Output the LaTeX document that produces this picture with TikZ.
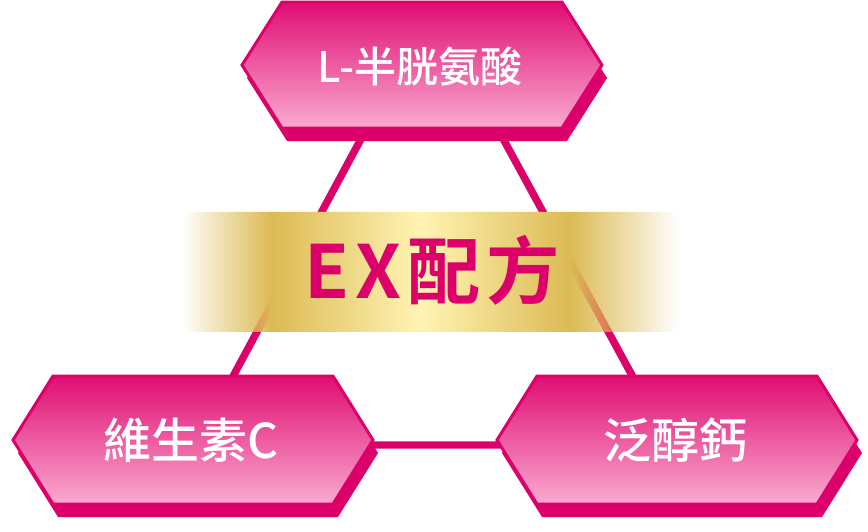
\documentclass[tikz,border=0pt]{standalone}
\usepackage{fontspec}
\usepackage{xcolor}
\usetikzlibrary{fadings}
\newfontfamily\cjk{Noto Sans CJK TC Medium}
\newfontfamily\cjkband[LetterSpace=8]{Noto Sans CJK TC Bold}

\definecolor{rosered}{RGB}{220,0,106}
\definecolor{rosetop}{RGB}{223,14,115}
\definecolor{rosebottom}{RGB}{250,170,208}
\definecolor{goldbar}{RGB}{220,186,84}
\definecolor{goldlight}{RGB}{255,244,180}

\pgfdeclarehorizontalshading{goldband}{100bp}{color(0bp)=(goldbar); color(34bp)=(goldbar); color(49bp)=(goldlight); color(64bp)=(goldbar); color(100bp)=(goldbar)}
\pgfdeclarehorizontalshading{goldmask}{100bp}{color(0bp)=(black); color(25bp)=(black); color(34bp)=(white); color(64bp)=(white); color(75bp)=(black); color(100bp)=(black)}
\tikzfading[name=goldfade, shading=goldmask]

\tikzset{
  link/.style={draw=rosered, line width=5.6pt},
  hexback/.style={fill=rosered},
  hexfront/.style={draw=rosered, line width=2.2pt, top color=rosetop, bottom color=rosebottom},
  hexlabel/.style={text=white, inner sep=0.75pt, font=\cjk\fontsize{31.5}{31.5}\selectfont},
  bandlabel/.style={text=rosered, inner sep=0.75pt, font=\cjkband\fontsize{55}{55}\selectfont}
}

\begin{document}
\begin{tikzpicture}[x=0.75pt,y=0.75pt,yscale=-1,xscale=1]
\useasboundingbox (0,0) rectangle (868,532);

%Triangle corners
\coordinate (topL) at (382,100);
\coordinate (topR) at (482,100);
\coordinate (cornerL) at (196,445);
\coordinate (cornerR) at (670,445);
%Straight Lines
\draw [link] (topL) -- (cornerL) -- (cornerR) -- (topR);

%Shape: Hexagon top
\fill [hexback] (287,15) -- (567,15) -- (607,78) -- (567,141) -- (287,141) -- (247,78) -- cycle;
\draw [hexfront] (282,2) -- (562,2) -- (602,65) -- (562,128) -- (282,128) -- (242,65) -- cycle;
%Shape: Hexagon left
\fill [hexback] (58,389) -- (338,389) -- (378,453) -- (338,517) -- (58,517) -- (18,453) -- cycle;
\draw [hexfront] (53,376) -- (333,376) -- (373,440) -- (333,504) -- (53,504) -- (13,440) -- cycle;
%Shape: Hexagon right
\fill [hexback] (542,389) -- (822,389) -- (862,453) -- (822,517) -- (542,517) -- (502,453) -- cycle;
\draw [hexfront] (537,376) -- (817,376) -- (857,440) -- (817,504) -- (537,504) -- (497,440) -- cycle;

%Shape: Gold band
\shade [shading=goldband, path fading=goldfade, rounded corners=9pt] (182,212) rectangle (679,332);

% Text Node
\node [hexlabel] (cysteine) at (420,66) {L-半胱氨酸};
% Text Node
\node [hexlabel, font=\cjk\fontsize{36}{36}\selectfont] (vitaminc) at (191,440) {維生素C};
% Text Node
\node [hexlabel, font=\cjk\fontsize{36}{36}\selectfont] (panthenol) at (675,440) {泛醇鈣};
% Text Node
\node [bandlabel] (formula) at (432,270) {EX配方};

\end{tikzpicture}
\end{document}
